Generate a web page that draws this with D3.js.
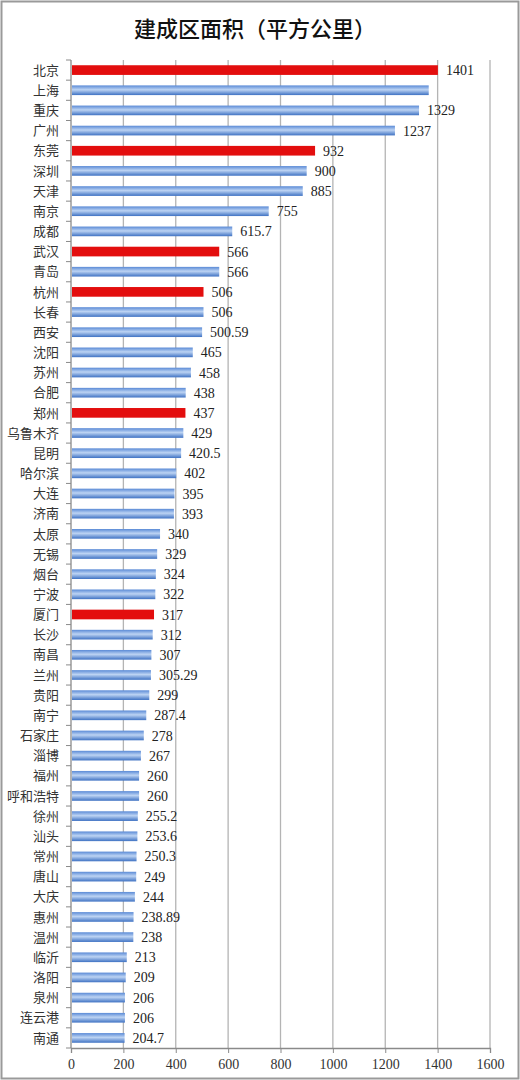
<!DOCTYPE html>
<html>
<head>
<meta charset="UTF-8">
<title>建成区面积</title>
<style>
    body { margin: 0; padding: 0; background: #fff; }
    #chart { width: 520px; height: 1080px; }
    .cat text { font-family: "Noto Sans CJK SC", sans-serif; font-size: 13px; fill: #333; }
    .val { font-family: "Liberation Serif", serif; font-size: 14px; fill: #222; }
    .xaxis text { font-family: "Liberation Serif", serif; font-size: 14px; fill: #333; }
</style>
<script src="https://d3js.org/d3.v7.min.js"></script>
</head>
<body>
<div id="chart"></div>
<script>
    var cities = ["北京", "上海", "重庆", "广州", "东莞", "深圳", "天津", "南京", "成都", "武汉",
        "青岛", "杭州", "长春", "西安", "沈阳", "苏州", "合肥", "郑州", "乌鲁木齐", "昆明",
        "哈尔滨", "大连", "济南", "太原", "无锡", "烟台", "宁波", "厦门", "长沙", "南昌",
        "兰州", "贵阳", "南宁", "石家庄", "淄博", "福州", "呼和浩特", "徐州", "汕头", "常州",
        "唐山", "大庆", "惠州", "温州", "临沂", "洛阳", "泉州", "连云港", "南通"];
    var areas = [1401, 1366, 1329, 1237, 932, 900, 885, 755, 615.7, 566,
        566, 506, 506, 500.59, 465, 458, 438, 437, 429, 420.5,
        402, 395, 393, 340, 329, 324, 322, 317, 312, 307,
        305.29, 299, 287.4, 278, 267, 260, 260, 255.2, 253.6, 250.3,
        249, 244, 238.89, 238, 213, 209, 206, 206, 204.7];
    var redCities = ["北京", "东莞", "武汉", "杭州", "郑州", "厦门"];
    var noLabel = ["上海"];
    var xTicks = [0, 200, 400, 600, 800, 1000, 1200, 1400, 1600];

    var W = 520, H = 1080;
    var margin = {top: 60, right: 30, bottom: 32, left: 71};

    var svg = d3.select("#chart").append("svg")
        .attr("width", W)
        .attr("height", H);

    // outer frame
    svg.append("rect")
        .attr("x", 1.5).attr("y", 1.5)
        .attr("width", W - 3).attr("height", H - 3)
        .attr("fill", "#fff").attr("stroke", "#9a9a9a").attr("stroke-width", 2);

    svg.append("text")
        .attr("x", 255).attr("y", 37)
        .attr("text-anchor", "middle")
        .style("font-family", "'Noto Sans CJK SC', sans-serif")
        .style("font-size", "22px")
        .style("font-weight", "500")
        .style("fill", "#111")
        .text("建成区面积（平方公里）");

    var defs = svg.append("defs");
    var grad = defs.append("linearGradient")
        .attr("id", "blueBar")
        .attr("x1", 0).attr("y1", 0).attr("x2", 0).attr("y2", 1);
    grad.append("stop").attr("offset", "0%").attr("stop-color", "#5a8ad6");
    grad.append("stop").attr("offset", "45%").attr("stop-color", "#bcd3f3");
    grad.append("stop").attr("offset", "100%").attr("stop-color", "#3f72c3");

    var x = d3.scaleLinear()
        .domain([0, 1600])
        .range([margin.left, 490]);

    var y = d3.scaleBand()
        .domain(cities)
        .range([margin.top, 1048])
        .paddingInner(0.52)
        .paddingOuter(0.26);

    var plotTop = margin.top, plotBottom = 1048;

    // vertical gridlines
    svg.append("g")
        .selectAll("line")
        .data(xTicks.slice(1))
        .enter().append("line")
        .attr("x1", function(d) { return x(d); })
        .attr("x2", function(d) { return x(d); })
        .attr("y1", plotTop)
        .attr("y2", plotBottom)
        .attr("stroke", "#b4b4b4")
        .attr("stroke-width", 1.3);

    // x axis
    var xAxis = svg.append("g")
        .attr("class", "xaxis")
        .attr("transform", "translate(0," + plotBottom + ")")
        .call(d3.axisBottom(x).tickValues(xTicks).tickFormat(d3.format("d")).tickSize(5).tickPadding(6));
    xAxis.select(".domain").attr("stroke", "#8a8a8a").attr("stroke-width", 1.3);
    xAxis.selectAll(".tick line").attr("stroke", "#8a8a8a");

    // y axis line with ticks at band boundaries
    var yg = svg.append("g").attr("class", "cat");
    yg.append("line")
        .attr("x1", x(0)).attr("x2", x(0))
        .attr("y1", plotTop).attr("y2", plotBottom)
        .attr("stroke", "#8a8a8a").attr("stroke-width", 1.3);
    yg.selectAll("line.tk")
        .data(d3.range(cities.length + 1))
        .enter().append("line")
        .attr("class", "tk")
        .attr("x1", x(0) - 5).attr("x2", x(0))
        .attr("y1", function(i) { return plotTop + i * (plotBottom - plotTop) / cities.length; })
        .attr("y2", function(i) { return plotTop + i * (plotBottom - plotTop) / cities.length; })
        .attr("stroke", "#8a8a8a");
    yg.selectAll("text")
        .data(cities)
        .enter().append("text")
        .attr("x", 59)
        .attr("y", function(d) { return y(d) + y.bandwidth() / 2; })
        .attr("dy", "0.36em")
        .attr("text-anchor", "end")
        .text(function(d) { return d; });

    // bars
    svg.append("g")
        .selectAll("rect")
        .data(cities)
        .enter().append("rect")
        .attr("x", x(0) + 1)
        .attr("y", function(d) { return y(d); })
        .attr("width", function(d, i) { return x(areas[i]) - x(0) - 1; })
        .attr("height", y.bandwidth())
        .attr("fill", function(d) { return redCities.indexOf(d) >= 0 ? "#e30e0e" : "url(#blueBar)"; });

    // value labels
    svg.append("g")
        .selectAll("text")
        .data(cities.filter(function(d) { return noLabel.indexOf(d) < 0; }))
        .enter().append("text")
        .attr("class", "val")
        .attr("x", function(d) { return x(areas[cities.indexOf(d)]) + 8; })
        .attr("y", function(d) { return y(d) + y.bandwidth() / 2; })
        .attr("dy", "0.36em")
        .text(function(d) { return String(areas[cities.indexOf(d)]); });
</script>
</body>
</html>
